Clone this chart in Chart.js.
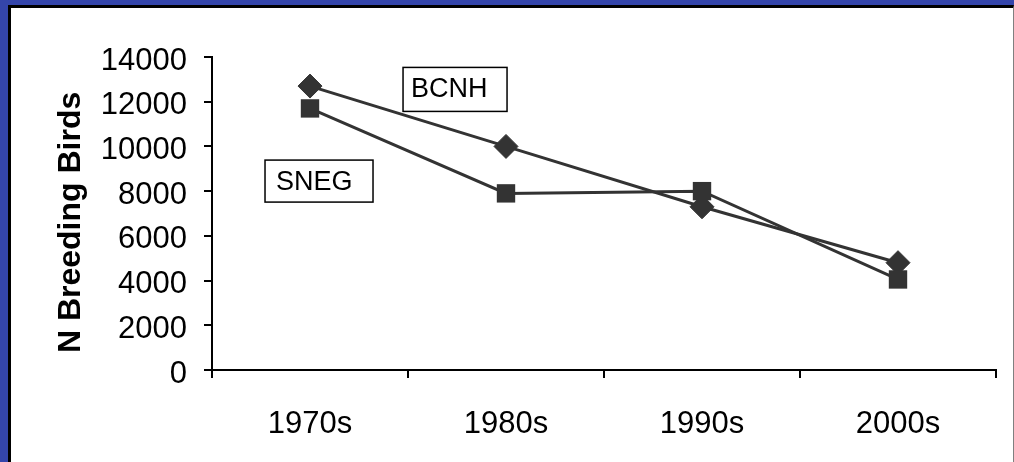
<!DOCTYPE html>
<html>
<head>
<meta charset="utf-8">
<script src="https://cdn.jsdelivr.net/npm/chart.js@4/dist/chart.umd.min.js"></script>
<style>
  html, body { margin: 0; padding: 0; width: 1014px; height: 462px; overflow: hidden; background: #3445ab; }
  #panel {
    position: absolute; left: 8px; top: 5px; width: 1006px; height: 457px;
    box-sizing: border-box; background: #ffffff;
    border-left: 3px solid #000; border-top: 3px solid #000; border-right: 1px solid #808080;
  }
  #chart { position: absolute; left: 0; top: 0; }
</style>
</head>
<body>
<div id="panel"></div>
<canvas id="chart" width="1014" height="462"></canvas>
<script>
// Breeding-bird counts per decade
const decades = ['1970s', '1980s', '1990s', '2000s'];
const bcnhCounts = [12700, 10000, 7300, 4800];
const snegCounts = [11700, 7900, 8000, 4050];
const yTicks = [0, 2000, 4000, 6000, 8000, 10000, 12000, 14000];

// Series name callouts, placed in data space (category index, count)
const callouts = [
  { text: 'BCNH', x: 0.74, y: 12550, w: 104, h: 44, pad: 8 },
  { text: 'SNEG', x: 0.046, y: 8450, w: 108, h: 42, pad: 11 }
];

const ink = '#333333';
const FONT = '"Liberation Sans", Arial, sans-serif';

const calloutPlugin = {
  id: 'callouts',
  afterDatasetsDraw(chart) {
    const { ctx, scales } = chart;
    ctx.save();
    ctx.font = '27px ' + FONT;
    ctx.textAlign = 'left';
    ctx.textBaseline = 'alphabetic';
    callouts.forEach(c => {
      const cx = scales.x.getPixelForValue(c.x);
      const cy = scales.y.getPixelForValue(c.y);
      const left = cx - c.w / 2, top = cy - c.h / 2;
      ctx.fillStyle = '#fff';
      ctx.fillRect(left, top, c.w, c.h);
      ctx.strokeStyle = '#000';
      ctx.lineWidth = 1.5;
      ctx.strokeRect(left, top, c.w, c.h);
      ctx.fillStyle = '#000';
      ctx.fillText(c.text, left + c.pad, top + 30);
    });
    ctx.restore();
  }
};

new Chart(document.getElementById('chart'), {
  type: 'line',
  data: {
    labels: decades,
    datasets: [
      {
        label: 'BCNH', data: bcnhCounts, order: 1,
        borderColor: ink, borderWidth: 3, backgroundColor: ink,
        pointStyle: 'rectRot', pointRadius: 12, pointBorderWidth: 1,
        pointBackgroundColor: ink, pointBorderColor: ink, tension: 0
      },
      {
        label: 'SNEG', data: snegCounts, order: 0,
        borderColor: ink, borderWidth: 3, backgroundColor: ink,
        pointStyle: 'rect', pointRadius: 13, pointBorderWidth: 0,
        pointBackgroundColor: ink, pointBorderColor: ink, tension: 0
      }
    ]
  },
  options: {
    responsive: false,
    animation: false,
    events: [],
    layout: { padding: { left: 0, top: 57, right: 18, bottom: 20 } },
    plugins: { legend: { display: false }, tooltip: { enabled: false } },
    scales: {
      x: {
        type: 'category',
        offset: true,
        afterFit(scale) { scale.height = 72; },
        grid: { display: true, offset: true, drawOnChartArea: false, drawTicks: true, tickLength: 8, color: '#000', lineWidth: 2 },
        border: { display: true, color: '#000', width: 2 },
        ticks: { color: '#000', font: { family: FONT, size: 31 }, padding: 28, maxRotation: 0, autoSkip: false }
      },
      y: {
        min: 0, max: 14000,
        afterBuildTicks(scale) { scale.ticks = yTicks.map(v => ({ value: v })); },
        afterFit(scale) { scale.width = 212; },
        grid: { display: true, drawOnChartArea: false, drawTicks: true, tickLength: 8, color: '#000', lineWidth: 2 },
        border: { display: true, color: '#000', width: 2 },
        ticks: {
          color: '#000', font: { family: FONT, size: 31 }, padding: 17, labelOffset: 4,
          callback: v => String(v)
        },
        title: {
          display: true, text: 'N Breeding Birds  ', color: '#000',
          font: { family: FONT, size: 32, weight: 'bold' },
          padding: { top: 52, bottom: 13 }
        }
      }
    }
  },
  plugins: [calloutPlugin]
});
</script>
</body>
</html>
